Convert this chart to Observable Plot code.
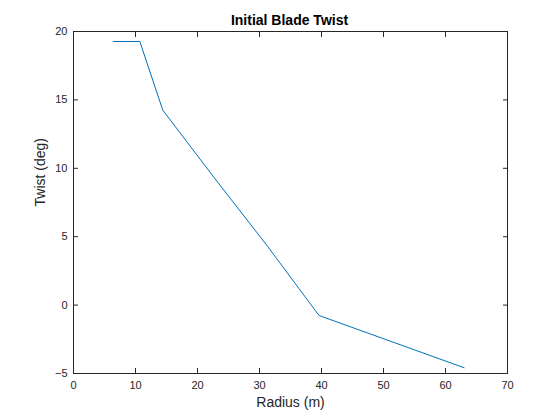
<!DOCTYPE html>
<html>
<head>
<meta charset="utf-8">
<script src="https://cdn.jsdelivr.net/npm/d3@7"></script>
<script src="https://cdn.jsdelivr.net/npm/@observablehq/plot@0.6"></script>
<style>
  html, body { margin: 0; padding: 0; background: #fff; }
  #chart svg { display: block; }
</style>
</head>
<body>
<div id="chart"></div>
<script>
const radius = [6.4, 10.7, 14.4, 22.8, 31.3, 39.6, 63.0];
const twist  = [19.27, 19.27, 14.25, 9.25, 4.3, -0.76, -4.58];
const xTicks = [0, 10, 20, 30, 40, 50, 60, 70];
const yTicks = [-5, 0, 5, 10, 15, 20];
const title = "Initial Blade Twist";
const xLabel = "Radius (m)";
const yLabel = "Twist (deg)";

const data = radius.map((r, i) => ({r, t: twist[i]}));
const axisColor = "#262626";

const chart = Plot.plot({
  width: 560,
  height: 420,
  marginLeft: 73,
  marginRight: 53,
  marginTop: 31,
  marginBottom: 47,
  style: {fontFamily: "'Liberation Sans', Arial, sans-serif", fontSize: "11px", color: axisColor, background: "#fff"},
  x: {domain: [0, 70]},
  y: {domain: [-5, 20]},
  marks: [
    Plot.frame({stroke: axisColor, strokeWidth: 1}),
    Plot.axisX(xTicks, {anchor: "bottom", tickSize: -5, tickPadding: 13, fontSize: 11, label: null}),
    Plot.axisX(xTicks, {anchor: "top", tickSize: -5, tickFormat: () => "", label: null}),
    Plot.axisY(yTicks, {anchor: "left", tickSize: -5, tickPadding: 11, fontSize: 11, label: null}),
    Plot.axisY(yTicks, {anchor: "right", tickSize: -5, tickFormat: () => "", label: null}),
    Plot.line(data, {x: "r", y: "t", stroke: "#0072BD", strokeWidth: 1}),
    Plot.text([xLabel], {frameAnchor: "bottom", lineAnchor: "middle", dy: 29.5, fontSize: 14, fill: axisColor}),
    Plot.text([yLabel], {frameAnchor: "left", lineAnchor: "middle", rotate: -90, dx: -33, dy: 4, fontSize: 14, fill: axisColor}),
    Plot.text([title], {frameAnchor: "top", lineAnchor: "middle", dx: -1, dy: -11, fontWeight: "bold", fontSize: 14, fill: "#000"})
  ]
});
document.getElementById("chart").append(chart);
</script>
</body>
</html>
